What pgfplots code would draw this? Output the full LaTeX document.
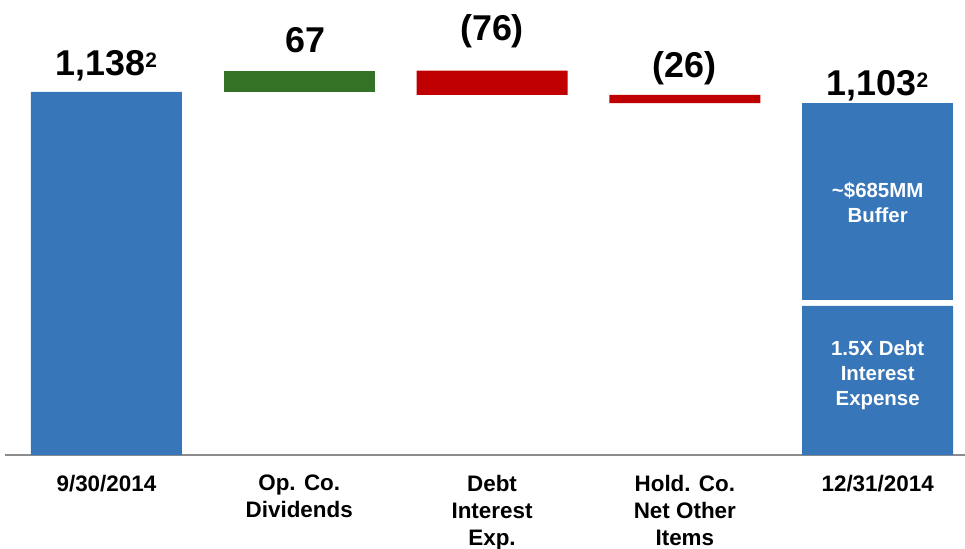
\documentclass[border=0pt]{standalone}
\usepackage{pgfplots}
\pgfplotsset{compat=1.18}
\usepackage{fontspec}
\setmainfont{Liberation Sans}
\definecolor{cblue}{RGB}{55,118,184}
\definecolor{cgreen}{RGB}{52,114,38}
\definecolor{cred}{RGB}{192,0,0}
\definecolor{cgray}{RGB}{140,140,140}
\newcommand{\supii}{\raisebox{8bp}{\fontsize{21}{21}\selectfont 2}}
\begin{document}
\begin{tikzpicture}
\begin{axis}[
  scale only axis, width=960bp, height=455bp,
  xmin=-0.526, xmax=4.453, ymin=0, ymax=1426,
  ybar stacked, bar width=151bp,
  axis x line=bottom, hide y axis,
  x axis line style={-, draw=cgray, line width=1.5bp},
  xtick={0,...,4},
  xticklabels={9/30/2014, Op. Co.\\Dividends, Debt\\Interest\\Exp., Hold. Co.\\Net Other\\Items, 12/31/2014},
  xtick style={draw=none},
  xticklabel style={font=\fontsize{22.5}{27}\selectfont\bfseries, align=center, anchor=north, inner sep=0pt, yshift=-18bp},
  clip=false,
]
\addplot[fill=none, draw=none] coordinates {(0,0)(1,1138)(2,1129)(3,1103)(4,0)};
\addplot[fill=cblue, draw=none] coordinates {(0,1138)(1,0)(2,0)(3,0)(4,467)};
\addplot[fill=cgreen, draw=none] coordinates {(0,0)(1,67)(2,0)(3,0)(4,0)};
\addplot[fill=cred, draw=none] coordinates {(0,0)(1,0)(2,76)(3,26)(4,0)};
\addplot[fill=none, draw=none] coordinates {(0,0)(1,0)(2,0)(3,0)(4,20)};
\addplot[fill=cblue, draw=none] coordinates {(0,0)(1,0)(2,0)(3,0)(4,616)};

\node[anchor=base, font=\fontsize{36}{36}\selectfont\bfseries] at (axis cs:0,1188) {1,138\supii};
\node[anchor=base, font=\fontsize{36}{36}\selectfont\bfseries] at (axis cs:1.03,1263) {67};
\node[anchor=base, font=\fontsize{36}{36}\selectfont\bfseries] at (axis cs:2,1298) {(76)};
\node[anchor=base, font=\fontsize{36}{36}\selectfont\bfseries] at (axis cs:3,1182) {(26)};
\node[anchor=base, font=\fontsize{36}{36}\selectfont\bfseries] at (axis cs:4,1128) {1,103\supii};
\coordinate (t1) at (axis cs:4,790);
\coordinate (t2) at (axis cs:4,251);
\end{axis}
\node[align=center, text=white, font=\fontsize{20.5}{25}\selectfont\bfseries] at (t1) {\textasciitilde\$685MM\\Buffer};
\node[align=center, text=white, font=\fontsize{20.5}{25}\selectfont\bfseries] at (t2) {1.5X Debt\\Interest\\Expense};
\pgfresetboundingbox
\path[use as bounding box] ([shift={(-5bp,-94bp)}]current axis.south west) rectangle (current axis.north east);
\end{tikzpicture}
\end{document}
